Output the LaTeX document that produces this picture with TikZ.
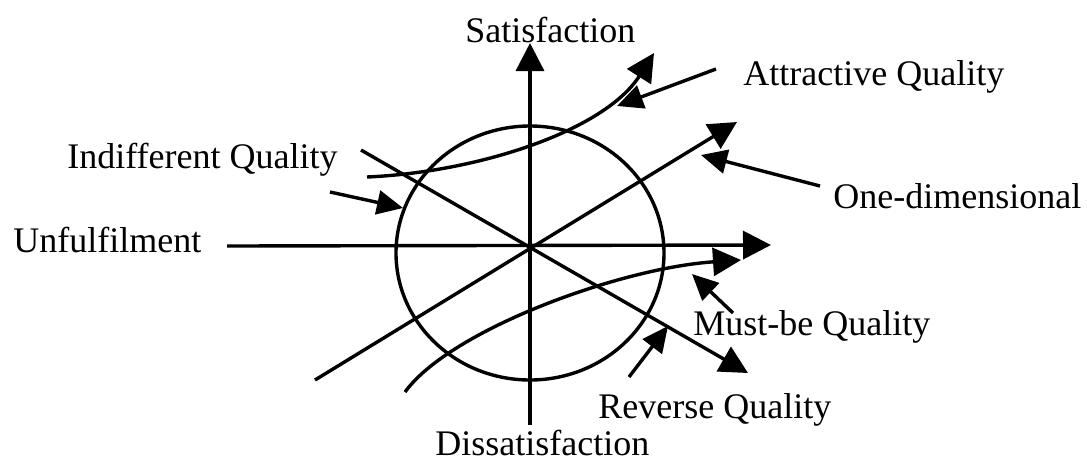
\documentclass[tikz,border=0pt]{standalone}
\usepackage{fontspec}
\setmainfont{Liberation Serif}
\usetikzlibrary{arrows.meta}
\begin{document}
\begin{tikzpicture}[x=0.5pt,y=-0.5pt,
  lbl/.style={anchor=base west,inner sep=0pt,font=\fontsize{18}{20}\selectfont},
  ln/.style={line width=1.7pt},
  arr/.style={line width=1.7pt,-{Triangle[length=14pt,width=14pt]}},
  sarr/.style={line width=1.7pt,-{Triangle[length=13pt,width=12pt]}}]
\useasboundingbox (0,0) rectangle (1087,462);
% texts
\node[lbl] (sat) at (465,42) {Satisfaction};
\node[lbl] (dis) at (435,455) {Dissatisfaction};
\node[lbl] (unf) at (13,252) {Unfulfilment};
\node[lbl] (att) at (743,85) {Attractive Quality};
\node[lbl] (one) at (833,208) {One-dimensional};
\node[lbl] (ind) at (67,168) {Indifferent Quality};
\node[lbl] (must) at (693,335) {Must-be Quality};
\node[lbl] (rev) at (598,418) {Reverse Quality};
% coordinates
\coordinate (O) at (530,246);
\coordinate (vt) at (530,43);
\coordinate (vb) at (530,425);
\coordinate (hl) at (227,246);
\coordinate (hr) at (771,245);
\coordinate (d1s) at (361,150);
\coordinate (d1e) at (748,373);
\coordinate (d2s) at (315,380);
\coordinate (d2e) at (737,122);
\coordinate (as) at (367,177);
\coordinate (ae) at (654,53);
\coordinate (ms) at (405,392);
\coordinate (me) at (741,260);
\coordinate (la1) at (716,69);  \coordinate (la2) at (617,106);
\coordinate (lo1) at (820,186); \coordinate (lo2) at (701,155);
\coordinate (li1) at (330,192); \coordinate (li2) at (403,208);
\coordinate (lm1) at (733,313); \coordinate (lm2) at (692,274);
\coordinate (lr1) at (629,377); \coordinate (lr2) at (668,326);
% circle
\draw[ln] (530,253) ellipse [x radius=67pt, y radius=63.5pt];
% axes
\draw[arr] (vb) -- (vt);
\draw[arr] (hl) -- (hr);
\draw[arr] (d1s) -- (d1e);
\draw[arr] (d2s) -- (d2e);
\draw[arr] (as) .. controls (480,172) and (605,130) .. (ae);
\draw[arr] (ms) .. controls (450,330) and (620,268) .. (me);
% label arrows
\draw[sarr] (la1) -- (la2);
\draw[sarr] (lo1) -- (lo2);
\draw[sarr] (li1) -- (li2);
\draw[sarr] (lm1) -- (lm2);
\draw[sarr] (lr1) -- (lr2);
\end{tikzpicture}
\end{document}
